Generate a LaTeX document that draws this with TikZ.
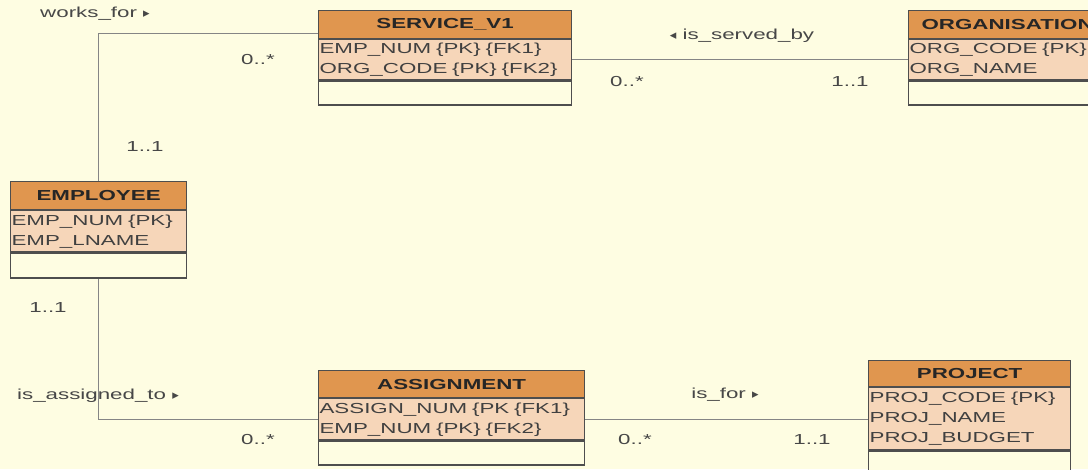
\documentclass[tikz,border=0pt]{standalone}
\usepackage{fontspec}
\setmainfont[FakeStretch=1.54]{Liberation Sans}
\newfontfamily\symfont{DejaVu Sans}
\usetikzlibrary{positioning}

\definecolor{paper}{HTML}{FEFDE2}
\definecolor{headfill}{HTML}{E0964F}
\definecolor{attrfill}{HTML}{F6D6B9}
\definecolor{rim}{HTML}{4E4E4E}
\definecolor{linkgray}{HTML}{858585}
\definecolor{labelgray}{HTML}{474747}

% reading-direction marks
\newcommand{\rdir}{{\symfont\fontsize{13}{13}\selectfont ▸}}
\newcommand{\ldir}{{\symfont\fontsize{13}{13}\selectfont ◂}}

\begin{document}
\begin{tikzpicture}[
  x=1pt, y=-1pt,
  font=\fontsize{14.5}{20}\selectfont,
  node distance=0pt,
  head/.style={draw=rim, line width=1.2pt, fill=headfill, text=black!85, font=\fontsize{14.5}{20}\selectfont\bfseries, minimum height=28pt, inner sep=0pt, anchor=north west},
  attrs/.style={draw=rim, line width=1.2pt, fill=attrfill, text=black!75, align=left, text width=#1, minimum height=40pt, inner xsep=1pt, inner ysep=0pt},
  foot/.style={draw=rim, line width=1.2pt, fill=paper, minimum height=24pt, inner sep=0pt},
  link/.style={draw=linkgray, line width=1pt},
  lbl/.style={text=labelgray, inner sep=0pt}
]
\path[use as bounding box] (0,0) rectangle (1088,469);
\clip (0,0) rectangle (1088,469);
\fill[paper] (0,0) rectangle (1088,469);

% entities: header, attribute block, empty block
\node[head, minimum width=253pt] (svc) at (318,10) {SERVICE\_V1};
\node[attrs=251pt, below=of svc] (svc-attr) {EMP\_NUM \{PK\} \{FK1\}\\ORG\_CODE \{PK\} \{FK2\}};
\node[foot, minimum width=253pt, below=of svc-attr] (svc-foot) {};

\node[head, minimum width=198pt] (org) at (908,10) {ORGANISATION};
\node[attrs=196pt, below=of org] (org-attr) {ORG\_CODE \{PK\}\\ORG\_NAME};
\node[foot, minimum width=198pt, below=of org-attr] (org-foot) {};

\node[head, minimum width=176pt] (emp) at (10,181) {EMPLOYEE};
\node[attrs=174pt, minimum height=41pt, below=of emp] (emp-attr) {EMP\_NUM \{PK\}\\EMP\_LNAME};
\node[foot, minimum width=176pt, minimum height=25pt, below=of emp-attr] (emp-foot) {};

\node[head, minimum width=266pt, minimum height=27pt] (asg) at (318,370) {ASSIGNMENT};
\node[attrs=264pt, minimum height=41pt, below=of asg] (asg-attr) {ASSIGN\_NUM \{PK \{FK1\}\\EMP\_NUM \{PK\} \{FK2\}};
\node[foot, minimum width=266pt, below=of asg-attr] (asg-foot) {};

\node[head, minimum width=202pt, minimum height=26pt] (prj) at (868,360) {PROJECT};
\node[attrs=200pt, minimum height=62pt, below=of prj] (prj-attr) {PROJ\_CODE \{PK\}\\PROJ\_NAME\\PROJ\_BUDGET};
\node[foot, minimum width=202pt, minimum height=30pt, below=of prj-attr] (prj-foot) {};

% relationships
\draw[link] (emp.north) |- ([yshift=-23pt]svc.north west);
\draw[link] (svc-attr.east) -- (org-attr.west);
\draw[link] (emp-foot.south) |- (asg-attr.west);
\draw[link] (asg-attr.east) -- (asg-attr.east -| prj-attr.west);

% names and multiplicities
\node[lbl] (worksfor) at (95,14) {works\_for \rdir};
\node[lbl] (svc-many) at (258,60) {0..*};
\node[lbl] (emp-one-up) at (145,147) {1..1};
\node[lbl] (servedby) at (742,36) {\ldir\ is\_served\_by};
\node[lbl] (org-many) at (627,82) {0..*};
\node[lbl] (org-one) at (850,82) {1..1};
\node[lbl] (emp-one-down) at (48,308) {1..1};
\node[lbl] (assignedto) at (98,396) {is\_assigned\_to \rdir};
\node[lbl] (asg-many) at (258,440) {0..*};
\node[lbl] (isfor) at (725,395) {is\_for \rdir};
\node[lbl] (prj-many) at (635,440) {0..*};
\node[lbl] (prj-one) at (812,440) {1..1};
\end{tikzpicture}
\end{document}
